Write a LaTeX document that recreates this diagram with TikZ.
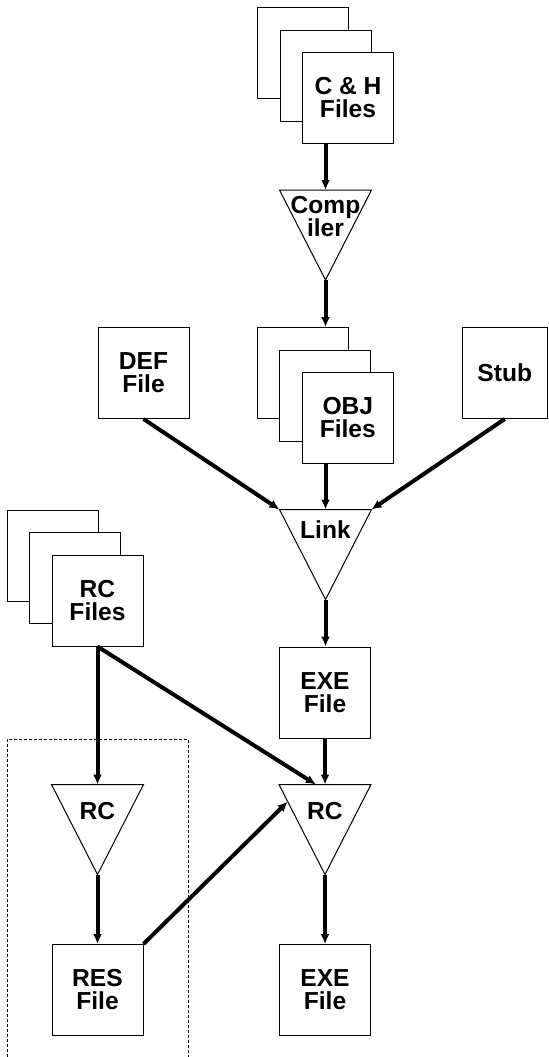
\documentclass[tikz,border=0pt]{standalone}
\usepackage{fontspec}
\setmainfont{Liberation Sans}
\usetikzlibrary{arrows.meta,calc}

\begin{document}
\begin{tikzpicture}[x=0.5pt,y=-0.5pt,>={Latex[length=5pt,width=4.5pt]},
  label/.style={font=\fontsize{12.3}{11.5}\selectfont\bfseries, align=center},
  page/.style={label, draw, line width=.5pt, fill=white, inner sep=0pt,
    minimum width=45.5pt, minimum height=45.5pt},
  tool/.style={label, inner sep=0pt, outer sep=0pt, anchor=north,
    minimum width=46pt, minimum height=#1},
  tool/.default=27pt,
  flow/.style={->, line width=2pt}]
\useasboundingbox (0,0) rectangle (548,1057);

% resource part, fenced off
\draw[line width=.5pt, dash pattern=on 1.5pt off 1pt] (7,1057) |- (188,739) -- (188,1057);

% sources and compiler
\node(ch3)[page] at (303,53) {};
\node(ch2)[page] at ([shift={(22.5,22.5)}]ch3) {};
\node(ch)[page] at ([shift={(22.5,22.5)}]ch2) {C \& H\\Files};
\node(comp)[tool] at (325.5,190) {Comp\\iler};

% link inputs
\node(def)[page] at (143.5,373) {DEF\\File};
\node(obj3)[page] at (302.8,373) {};
\node(obj2)[page] at ([shift={(22.5,22.5)}]obj3) {};
\node(obj)[page] at ([shift={(22.5,22.5)}]obj2) {OBJ\\Files};
\node(stub)[page, minimum width=42.75pt] at (504.75,373) {Stub};
\node(link)[tool=20pt] at (325.5,509.5) {Link};
\node(exe)[page] at (325,692.5) {EXE\\File};

% resources
\node(rc3)[page] at (52.5,555.5) {};
\node(rc2)[page] at ([shift={(22.5,22.5)}]rc3) {};
\node(rc)[page] at ([shift={(22.5,22.5)}]rc2) {RC\\Files};
\node(rcl)[tool] at (97.5,784.5) {RC};
\node(rcr)[tool] at (325,784.5) {RC};
\node(res)[page] at (97.5,990) {RES\\File};
\node(exe2)[page] at (325,990) {EXE\\File};

% the tools are triangles pointing down
\foreach \t in {comp,link,rcl,rcr}{
  \coordinate (\t-tip) at ($(\t.north)+(0,90)$);
  \draw[line width=.5pt] (\t.north west) -- (\t.north east) -- (\t-tip) -- cycle;
}
\coordinate (rcr-side) at ([xshift=-4.5pt]rcr.north);
\coordinate (rcr-in) at ($(rcr.north west)!.19!(rcr-tip)$);

\draw[flow] (ch.south -| comp.north) -- (comp.north);
\draw[flow] (comp-tip) -- (comp-tip |- obj3.north);
\draw[flow] (def.south) -- (link.north west);
\draw[flow] (obj.south -| link.north) -- (link.north);
\draw[flow] (stub.south) -- (link.north east);
\draw[flow] (link-tip) -- (link-tip |- exe.north);
\draw[flow] (exe.south) -- (rcr.north);
\draw[flow] (rc.south) -- (rcl.north);
\draw[flow] (rc.south) -- (rcr-side);
\draw[flow] (rcl-tip) -- (res.north);
\draw[flow] (res.north east) -- (rcr-in);
\draw[flow] (rcr-tip) -- (exe2.north);
\end{tikzpicture}
\end{document}
